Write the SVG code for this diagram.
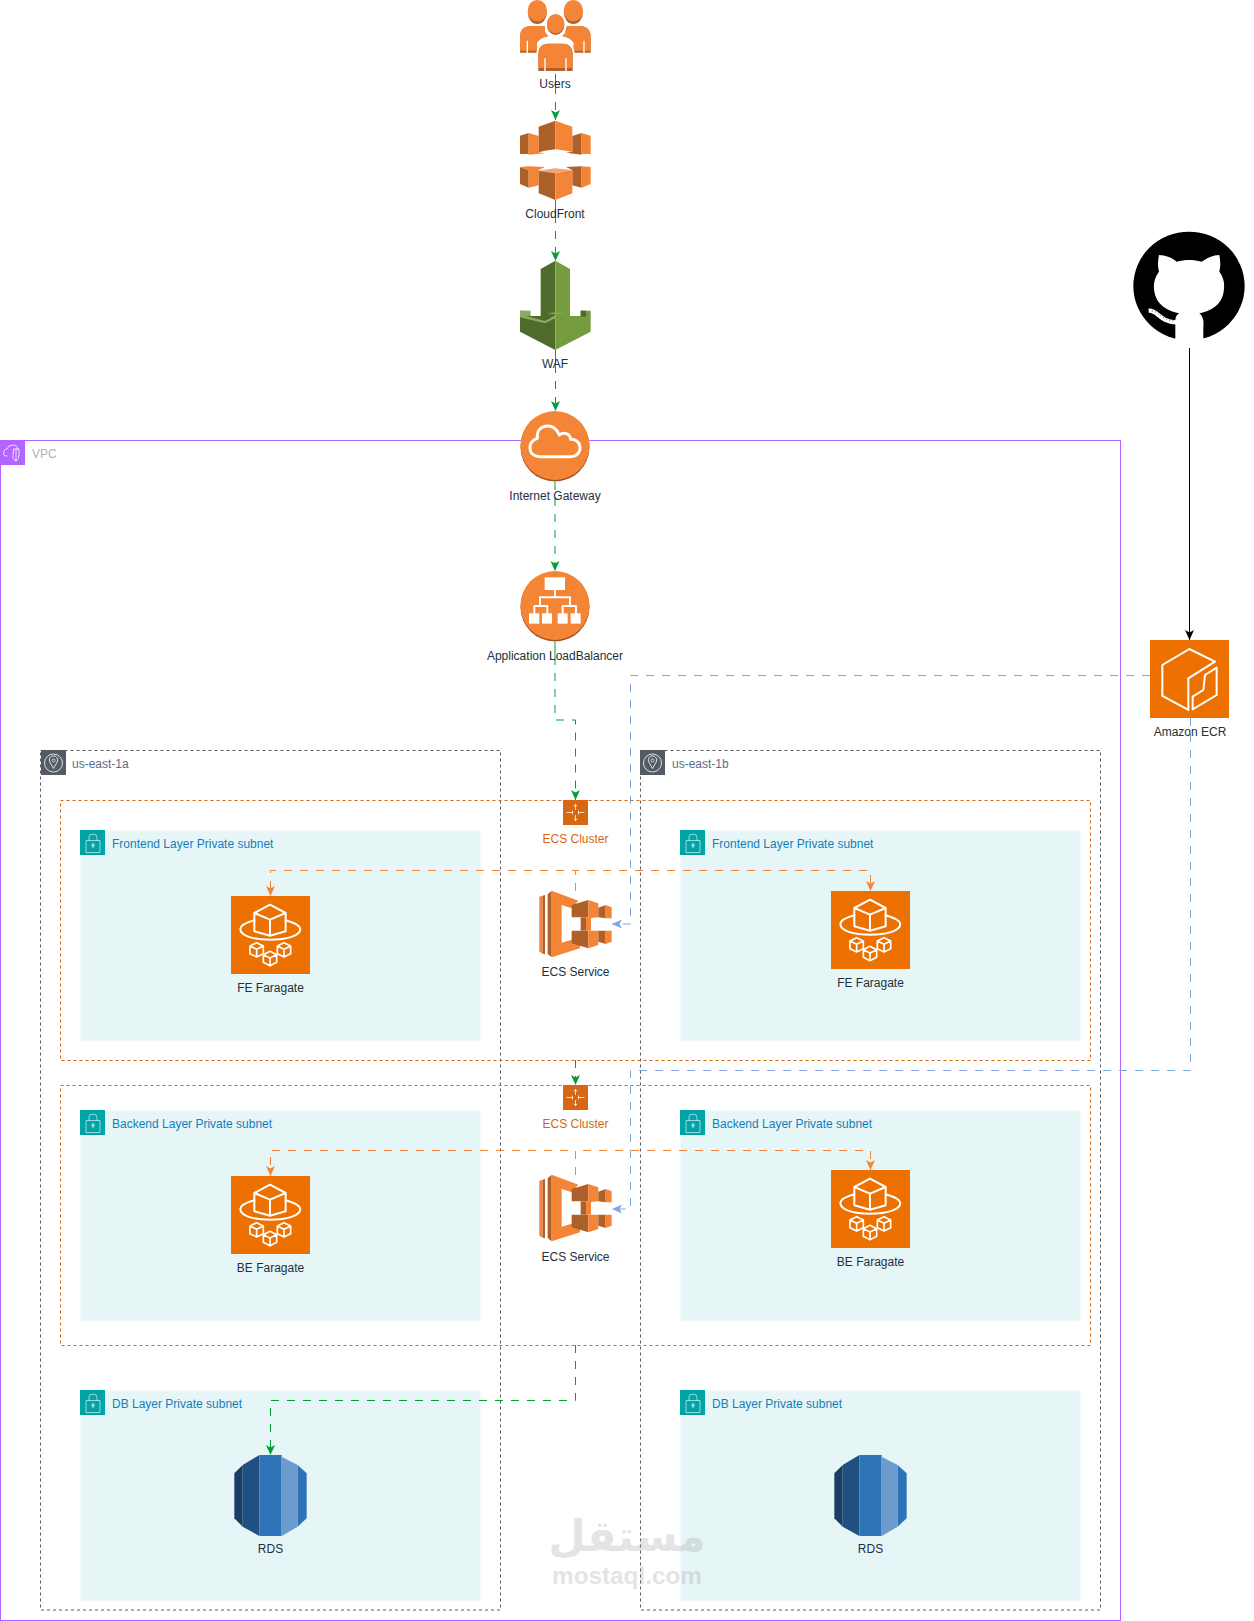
<svg xmlns="http://www.w3.org/2000/svg" width="1254" height="1621" viewBox="0 0 1254 1621">
<style>
text{font-family:"Liberation Sans",Arial,sans-serif;font-size:12px}
.lb{text-anchor:middle;fill:#232F3E}
.cl{text-anchor:middle;fill:#D86613}
.sn{fill:#147EBA}
.subnet{fill:#E6F6F7}
.az{fill:none;stroke:#545B64;stroke-dasharray:3 3}
.cluster{fill:none;stroke:#D86613;stroke-dasharray:3 3}
.e{fill:none;stroke-width:1}
.g{stroke:#00A038;marker-end:url(#ag)}
.o{stroke:#F58536;marker-end:url(#ao)}
.b{stroke:#7EA6E0;marker-end:url(#ab)}
.k{stroke:#000;marker-end:url(#ak)}
.d8{stroke-dasharray:8 8}
.d24{stroke-dasharray:23 8 8 8 8 8 8 8 8 8 8 8 8 8 8 8 8 8 8 8 8 8 8 8 8 8 8 8 8 8}
.w{fill:none;stroke:#fff;stroke-linejoin:round;stroke-linecap:round}
.wf{fill:#fff}
.l{fill:#F58536}
.dk{fill:#AD6029}
</style>
<defs>
<marker id="ag" markerUnits="userSpaceOnUse" markerWidth="10" markerHeight="10" viewBox="0 0 10 10" refX="10" refY="5" orient="auto"><path d="M0,.5 10,5 0,9.500 2.500,5Z" fill="#00A038"/></marker>
<marker id="ao" markerUnits="userSpaceOnUse" markerWidth="10" markerHeight="10" viewBox="0 0 10 10" refX="10" refY="5" orient="auto"><path d="M0,.5 10,5 0,9.500 2.500,5Z" fill="#F58536"/></marker>
<marker id="ab" markerUnits="userSpaceOnUse" markerWidth="10" markerHeight="10" viewBox="0 0 10 10" refX="10" refY="5" orient="auto"><path d="M0,.5 10,5 0,9.500 2.500,5Z" fill="#7EA6E0"/></marker>
<marker id="ak" markerUnits="userSpaceOnUse" markerWidth="10" markerHeight="10" viewBox="0 0 10 10" refX="10" refY="5" orient="auto"><path d="M0,.5 10,5 0,9.500 2.500,5Z" fill="#000"/></marker>
<g id="smallcube"><path class="w" stroke-width="5" d="M0,-21 20,-11 20,12 0,22 -20,12 -20,-11Z M-20,-11 0,-1 20,-11 M0,-1 0,22"/></g>
<g id="fargate">
<rect width="79" height="78" fill="#ED7100"/>
<g transform="scale(.3333) translate(-64 -139)">
<path class="w" stroke-width="6" d="M181,165 228,190 228,245 181,258 134,245 134,190Z M134,190 181,210 228,190 M181,210 181,258"/>
<path class="w" stroke-width="6" d="M134,212C105,220 92,230 92,238 92,258 130,270 181,270 232,270 272,258 272,238 272,230 255,220 228,212"/>
<use href="#smallcube" x="141" y="300"/><use href="#smallcube" x="223" y="300"/><use href="#smallcube" x="181" y="326"/>
</g>
</g>
<g id="service">
<g transform="scale(.3333)">
<path class="l" d="M88,110 98,107 98,281 88,275Z"/>
<path class="dk" d="M98,107 105,105 105,283 98,281Z"/>
<path class="dk" d="M113,103 125,92 125,292 113,282Z"/>
<path class="l" d="M125,92 205,122 185,145 155,135 155,248 210,232 210,265 125,292Z"/>
<path class="dk" d="M185,135 235,120 235,172 185,172Z"/>
<path class="l" d="M235,120 265,130 265,172 235,175Z"/>
<path class="dk" d="M265,143 287,135 287,175 265,172Z"/>
<path class="l" d="M287,135 305,142 305,175 287,175Z"/>
<path class="dk" d="M212,172 228,172 228,212 212,212Z"/>
<path class="l" d="M228,172 243,172 243,212 228,212Z"/>
<path class="dk" d="M185,212 235,212 235,265 185,250Z"/>
<path class="l" d="M235,212 265,212 265,255 235,265Z"/>
<path class="dk" d="M265,212 287,212 287,252 265,245Z"/>
<path class="l" d="M287,212 305,212 305,245 287,252Z"/>
</g>
</g>
<g id="ecluster">
<rect width="25" height="25" fill="#D86613"/>
<g class="w" stroke-width=".8"><path d="M12.500,4.500V9.500M12.500,15.500V20.500M4,12.500H9.500M15.500,12.500H21M11,6 12.500,4.500 14,6M11,19 12.500,20.500 14,19"/><path d="M9.500,11v3M15.500,11v3"/></g>
</g>
<g id="lock">
<rect width="25" height="25" fill="#00A4A6"/>
<path d="M6,10.500H20V22.500H6Z M9,10.500V7.500Q9,4 13,4 17,4 17,7.500V10.500 M13,15V18.500" fill="none" stroke="#BFE9EA" stroke-width=".8"/>
<circle cx="13" cy="15" r="1.300" fill="none" stroke="#fff" stroke-width=".7"/>
</g>
<g id="azicon">
<rect width="25" height="25" fill="#545B64"/>
<circle cx="12.500" cy="13" r="9" fill="none" stroke="#fff" stroke-width=".8"/>
<path d="M12.500,18.500 8.800,12A4.200,4.200 0 1 1 16.200,12Z" fill="none" stroke="#fff" stroke-width=".8"/>
<circle cx="12.500" cy="10.500" r="1.500" fill="none" stroke="#fff" stroke-width=".7"/>
</g>
<g id="rds" transform="scale(.3333)">
<path fill="#1A3D63" d="M73,280 98,255 98,440 73,415Z"/>
<path fill="#205081" d="M98,255 148,225 148,468 98,440Z"/>
<path fill="#2E73B8" d="M148,225 215,225 215,468 148,468Z"/>
<path fill="#6B9CCD" d="M215,230 263,255 263,440 215,468Z"/>
<path fill="#2E73B8" d="M263,255 290,280 290,415 263,440Z"/>
</g>
</defs>

<g id="vpc">
<rect x=".5" y="440.500" width="1120" height="1180" fill="#fff" stroke="#B266FF"/>
<rect x="0" y="440" width="25" height="25" fill="#B266FF"/>
<path class="w" stroke-width=".8" d="M7,456H5Q3,455 4,451 5,449 7,449 8,445 13,445 17,445 18,449"/>
<path class="w" stroke-width=".8" d="M14,449H19V455Q19,459 16,461 12,459 13,455Z M16,449V461"/>
<text x="32" y="457.500" fill="#AAB7B8">VPC</text>
</g>
<g id="az-1a"><rect class="az" x="40.500" y="750.500" width="460" height="859.500"/><use href="#azicon" x="41" y="750"/><text x="72" y="767.500" fill="#5A6C86">us-east-1a</text></g>
<g id="az-1b"><rect class="az" x="640.500" y="750.500" width="460" height="859.500"/><use href="#azicon" x="640" y="750"/><text x="672" y="767.500" fill="#5A6C86">us-east-1b</text></g>

<g id="cluster-fe-box"><rect class="cluster" x="60.500" y="800.500" width="1030" height="260"/></g>
<g id="cluster-be-box"><rect class="cluster" x="60.500" y="1085.500" width="1030" height="260"/></g>

<g id="subnet-fe-a"><rect class="subnet" x="80.500" y="830.500" width="400" height="210"/><use href="#lock" x="80" y="830"/><text class="sn" x="112" y="847.500">Frontend Layer Private subnet</text></g>
<g id="subnet-fe-b"><rect class="subnet" x="680.500" y="830.500" width="400" height="210"/><use href="#lock" x="680" y="830"/><text class="sn" x="712" y="847.500">Frontend Layer Private subnet</text></g>
<g id="subnet-be-a"><rect class="subnet" x="80.500" y="1110.500" width="400" height="210"/><use href="#lock" x="80" y="1110"/><text class="sn" x="112" y="1127.500">Backend Layer Private subnet</text></g>
<g id="subnet-be-b"><rect class="subnet" x="680.500" y="1110.500" width="400" height="210"/><use href="#lock" x="680" y="1110"/><text class="sn" x="712" y="1127.500">Backend Layer Private subnet</text></g>
<g id="subnet-db-a"><rect class="subnet" x="80.500" y="1390.500" width="400" height="210"/><use href="#lock" x="80" y="1390"/><text class="sn" x="112" y="1407.500">DB Layer Private subnet</text></g>
<g id="subnet-db-b"><rect class="subnet" x="680.500" y="1390.500" width="400" height="210"/><use href="#lock" x="680" y="1390"/><text class="sn" x="712" y="1407.500">DB Layer Private subnet</text></g>

<g id="connectors">
<path class="e g d24" d="M555.500,71V120"/>
<path class="e g d24" d="M555.500,200V261"/>
<path class="e g d24" d="M555.500,350V411"/>
<path class="e g d8" d="M555,482V571"/>
<path class="e g d24" d="M555,642V720H575.500V800"/>
<path class="e g d8" d="M575.500,1060V1085"/>
<path class="e g d8" d="M575.500,1345V1400.500H270.500V1455"/>
<path class="e o d8" d="M575.500,891V870.500H270.500V896"/>
<path class="e o d8" d="M575.500,891V870.500H870.500V891"/>
<path class="e o d8" d="M575.500,1175V1150.500H270.500V1176"/>
<path class="e o d8" d="M575.500,1175V1150.500H870.500V1170"/>
<path class="e b d8" d="M1150,675.500H630.500V924H612"/>
<path class="e b d8" d="M1190.500,718V1070.500H630.500V1209H612"/>
<path class="e k" d="M1189.500,348V640"/>
</g>

<g id="users" transform="translate(480 0) scale(.3333)">
<path fill="#B0612F" d="M120,158V112Q120,78 155,78H196Q190,100 205,108 180,112 170,130 172,145 172,158Z"/>
<path class="l" d="M120,152V112Q120,78 155,78H196Q190,100 205,108 180,112 170,130 172,140 172,152Z"/>
<path fill="#B0612F" d="M332,158V112Q332,78 297,78H256Q262,100 247,108 272,112 282,130 280,145 280,158Z"/>
<path class="l" d="M332,152V112Q332,78 297,78H256Q262,100 247,108 272,112 282,130 280,140 280,152Z"/>
<ellipse cx="172" cy="38" rx="28.500" ry="34" fill="#B0612F"/><ellipse cx="172" cy="32" rx="29" ry="32" class="l"/>
<ellipse cx="280" cy="38" rx="28.500" ry="34" fill="#B0612F"/><ellipse cx="280" cy="32" rx="29" ry="32" class="l"/>
<ellipse cx="227" cy="73" rx="33" ry="38" fill="#fff"/>
<ellipse cx="227" cy="75" rx="26" ry="30" fill="#B0612F"/><ellipse cx="227" cy="71" rx="26" ry="29" class="l"/>
<path fill="#B0612F" stroke="#fff" stroke-width="6" d="M172,216V165Q172,128 205,128H248Q281,128 281,165V216Z"/>
<path class="l" d="M175,204V165Q175,131 205,131H248Q278,131 278,165V204Z"/>
<path d="M142,122V158M312,122V158M195,175V213M258,175V213" stroke="#fff" stroke-width="4" fill="none"/>
<path d="M172,218H281" stroke="#fff" stroke-width="6"/>
</g>
<text class="lb" x="555" y="88">Users</text>

<g id="cloudfront" transform="translate(480 0) scale(.3333)">
<path class="dk" d="M120,407 146,399 146,462 120,462Z"/><path class="l" d="M146,399 176,408 176,457 195,460 146,464Z"/>
<path class="dk" d="M258,458 277,455 277,408 305,399 305,464Z"/><path class="l" d="M305,399 332,407 332,462 305,462Z"/>
<path class="dk" d="M176,380 226,362 226,448 195,452 176,457Z"/><path class="l" d="M226,362 277,380 277,456 258,452 226,448Z"/>
<path class="dk" d="M120,501 146,510 146,563 120,552Z"/><path class="l" d="M120,501 146,499 195,501 176,510 176,556 146,563 146,510Z"/>
<path class="dk" d="M258,501 305,499 305,563 277,556 277,510Z"/><path class="l" d="M305,499 332,501 332,552 305,563Z"/>
<path fill="#F2A66E" d="M176,512 226,505 277,510 226,520Z"/>
<path class="dk" d="M176,512 226,520 226,600 176,580Z"/><path class="l" d="M226,520 277,510 277,580 226,600Z"/>
</g>
<text class="lb" x="555" y="218">CloudFront</text>

<g id="waf" transform="translate(480 240) scale(.3333)">
<path fill="#4F6B2B" d="M226,62 182,87V228L137,228V212H120V275L226,330Z"/>
<path fill="#759C3E" d="M226,62 270,87V228L302,228V212H332V275L226,330Z"/>
<path fill="#8DAB5C" d="M120,212H137V228L195,243 226,226V235L195,250 120,232Z"/>
<path fill="#4F6B2B" d="M302,212H318V230H302Z"/>
<path fill="#8DAB5C" d="M137,212H152V228H137Z"/>
<path fill="#8DAB5C" d="M200,220Q226,215 255,220 226,225 200,220Z"/>
</g>
<text class="lb" x="555" y="368">WAF</text>

<g id="igw">
<circle cx="555" cy="447" r="34.500" fill="#9D5025"/><circle cx="555" cy="445.500" r="34.500" class="l"/>
<g transform="translate(480 240) scale(.3333)"><path class="w" stroke-width="9" d="M178,650H272C295,650 302,630 300,620 298,605 285,597 272,598 270,580 250,575 238,585 230,565 215,557 200,558 180,560 170,575 172,595 158,600 150,610 150,622 150,640 162,650 178,650Z"/></g>
</g>
<text class="lb" x="555" y="500">Internet Gateway</text>

<g id="alb">
<circle cx="555" cy="607" r="34.500" fill="#9D5025"/><circle cx="555" cy="605.500" r="34.500" class="l"/>
<g transform="translate(480 550) scale(.3333)">
<rect class="wf" x="194" y="82" width="61" height="38"/>
<path class="w" stroke-width="6" d="M225,120V142M180,168V142H270V168M163,190V168H202V190M248,190V168H288V190"/>
<rect class="wf" x="147" y="190" width="31" height="31"/><rect class="wf" x="186" y="190" width="30" height="31"/><rect class="wf" x="233" y="190" width="30" height="31"/><rect class="wf" x="272" y="190" width="30" height="31"/>
</g>
</g>
<text class="lb" x="555" y="660">Application LoadBalancer</text>

<g id="github" transform="translate(1110 220) scale(.3333)">
<ellipse cx="237" cy="198" rx="167" ry="163" fill="#000"/>
<path class="wf" d="M147,105C165,105 190,115 200,125 225,118 250,118 275,125 290,115 310,105 328,105 332,125 332,140 328,155 340,170 344,190 342,205 340,250 310,272 268,280 280,290 282,305 280,320V370H196V300C198,285 205,282 208,280 165,272 135,250 132,205 130,190 135,170 147,155 143,140 143,125 147,105Z"/>
<path d="M116,272C145,270 145,304 198,307" fill="none" stroke="#fff" stroke-width="13"/>
<path d="M125,273C150,274 150,300 195,303" fill="none" stroke="#000" stroke-width="2" stroke-dasharray="3 7"/>
</g>

<g id="ecr">
<rect x="1150" y="640" width="79" height="78" fill="#ED7100"/>
<g transform="translate(1120 620) scale(.3333)"><path class="w" stroke-width="6" d="M285,125 208,87 127,135 127,228 205,270 205,175Z M218,268 218,230 250,210 255,165 290,143 290,225Z"/></g>
</g>
<text class="lb" x="1190" y="736">Amazon ECR</text>

<g id="cluster-fe"><use href="#ecluster" x="563" y="800"/><text class="cl" x="575.500" y="843">ECS Cluster</text></g>
<g id="cluster-be"><use href="#ecluster" x="563" y="1085"/><text class="cl" x="575.500" y="1128">ECS Cluster</text></g>
<g id="service-fe"><use href="#service" x="510" y="860"/><text class="lb" x="575.500" y="976">ECS Service</text></g>
<g id="service-be"><use href="#service" x="510" y="1144"/><text class="lb" x="575.500" y="1261">ECS Service</text></g>

<g id="fe-a"><use href="#fargate" x="231" y="896"/><text class="lb" x="270.500" y="992">FE Faragate</text></g>
<g id="fe-b"><use href="#fargate" x="831" y="891"/><text class="lb" x="870.500" y="987">FE Faragate</text></g>
<g id="be-a"><use href="#fargate" x="231" y="1176"/><text class="lb" x="270.500" y="1272">BE Faragate</text></g>
<g id="be-b"><use href="#fargate" x="831" y="1170"/><text class="lb" x="870.500" y="1266">BE Faragate</text></g>

<g id="rds-a"><g transform="translate(210 1380)"><use href="#rds"/></g><text class="lb" x="270.500" y="1553">RDS</text></g>
<g id="rds-b"><g transform="translate(810 1380)"><use href="#rds"/></g><text class="lb" x="870.500" y="1553">RDS</text></g>

<g id="watermark" fill="#888" opacity=".22">
<text x="627" y="1551" text-anchor="middle" style="font-family:'DejaVu Sans',sans-serif;font-size:43px;font-weight:bold">مستقل</text>
<text x="627" y="1584" text-anchor="middle" style="font-size:24.300px;font-weight:bold">mostaql.com</text>
</g>
</svg>
